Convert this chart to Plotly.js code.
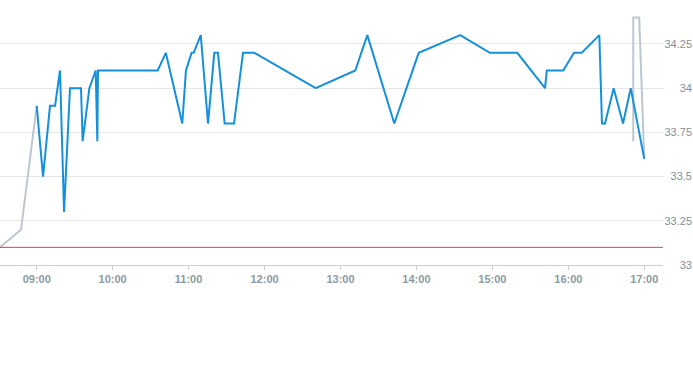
<!DOCTYPE html>
<html>
<head>
<meta charset="utf-8">
<script src="https://cdn.plot.ly/plotly-3.0.1.min.js"></script>
<style>html,body{margin:0;padding:0;background:#fff}#chart{width:693px;height:365px}</style>
</head>
<body>
<div id="chart"></div>
<script>
const day = '2024-01-02 ';
const mainTimes = ['09:00:00','09:05:00','09:10:30','09:14:30','09:18:24','09:21:36','09:26:18','09:35:00','09:36:18','09:41:36','09:46:36','09:47:54','09:48:24','10:35:36','10:42:00','10:55:00','10:57:54','11:02:24','11:04:00','11:09:36','11:15:20','11:20:18','11:23:12','11:28:30','11:35:54','11:43:00','11:51:54','12:40:24','13:11:42','13:21:12','13:42:30','14:01:48','14:34:36','14:58:00','15:19:40','15:41:36','15:43:00','15:56:00','16:04:30','16:10:36','16:24:30','16:26:36','16:29:00','16:35:48','16:43:12','16:49:18','17:00:00'];
const mainValues = [33.9,33.5,33.9,33.9,34.1,33.3,34.0,34.0,33.7,34.0,34.1,33.7,34.1,34.1,34.2,33.8,34.1,34.2,34.2,34.3,33.8,34.2,34.2,33.8,33.8,34.2,34.2,34.0,34.1,34.3,33.8,34.2,34.3,34.2,34.2,34.0,34.1,34.1,34.2,34.2,34.3,33.8,33.8,34.0,33.8,34.0,33.6];
const extTimes = ['08:31:00','08:47:36','09:00:00',null,'16:51:18','16:51:18','16:56:00','17:00:00'];
const extValues = [33.1,33.2,33.9,null,33.7,34.4,34.4,33.6];
const threshold = 33.1;
const xRange = ['08:31:00','17:14:48'];
const yRange = [32.887, 34.442];
const yBase = 33;

const toDate = t => t === null ? null : day + t;

const traces = [
  {x: extTimes.map(toDate), y: extValues, type:'scatter', mode:'lines', connectgaps:false,
   line:{color:'#bcc7d1', width:2}, hoverinfo:'skip'},
  {x: mainTimes.map(toDate), y: mainValues, type:'scatter', mode:'lines',
   line:{color:'#1590dc', width:2}}
];

const xAxisPos = (yBase - yRange[0]) / (yRange[1] - yRange[0]);

const layout = {
  width:693, height:365,
  margin:{l:0, r:0, t:10, b:80},
  showlegend:false,
  paper_bgcolor:'#fff', plot_bgcolor:'#fff',
  xaxis:{type:'date', domain:[0, 0.9567], range:xRange.map(toDate), anchor:'free', position:xAxisPos,
    dtick:3600000, tick0: day + '09:00:00', tickformat:'%H:%M',
    showgrid:false, zeroline:false, showline:true, linecolor:'#ccd1d9', linewidth:1,
    ticks:'outside', ticklen:4, tickcolor:'#ccd1d9',
    tickfont:{family:'Liberation Sans, Arial, sans-serif', size:11, color:'#8e99a4', weight:'bold'}},
  yaxis:{range:yRange, domain:[0, 1], side:'right', anchor:'free', position:1,
    dtick:0.25, tick0:yBase, showgrid:true, gridcolor:'#e6e6e6', gridwidth:1,
    zeroline:false, showline:false, ticks:'',
    ticklabelposition:'inside', ticklabelstandoff:-2,
    tickfont:{family:'Liberation Sans, Arial, sans-serif', size:11, color:'#858f99'}},
  shapes:[{type:'line', xref:'x domain', x0:0, x1:1, yref:'y', y0:threshold, y1:threshold,
    line:{color:'#d0454a', width:1}, layer:'above'}]
};
Plotly.newPlot('chart', traces, layout, {displayModeBar:false, staticPlot:true});
</script>
</body>
</html>
